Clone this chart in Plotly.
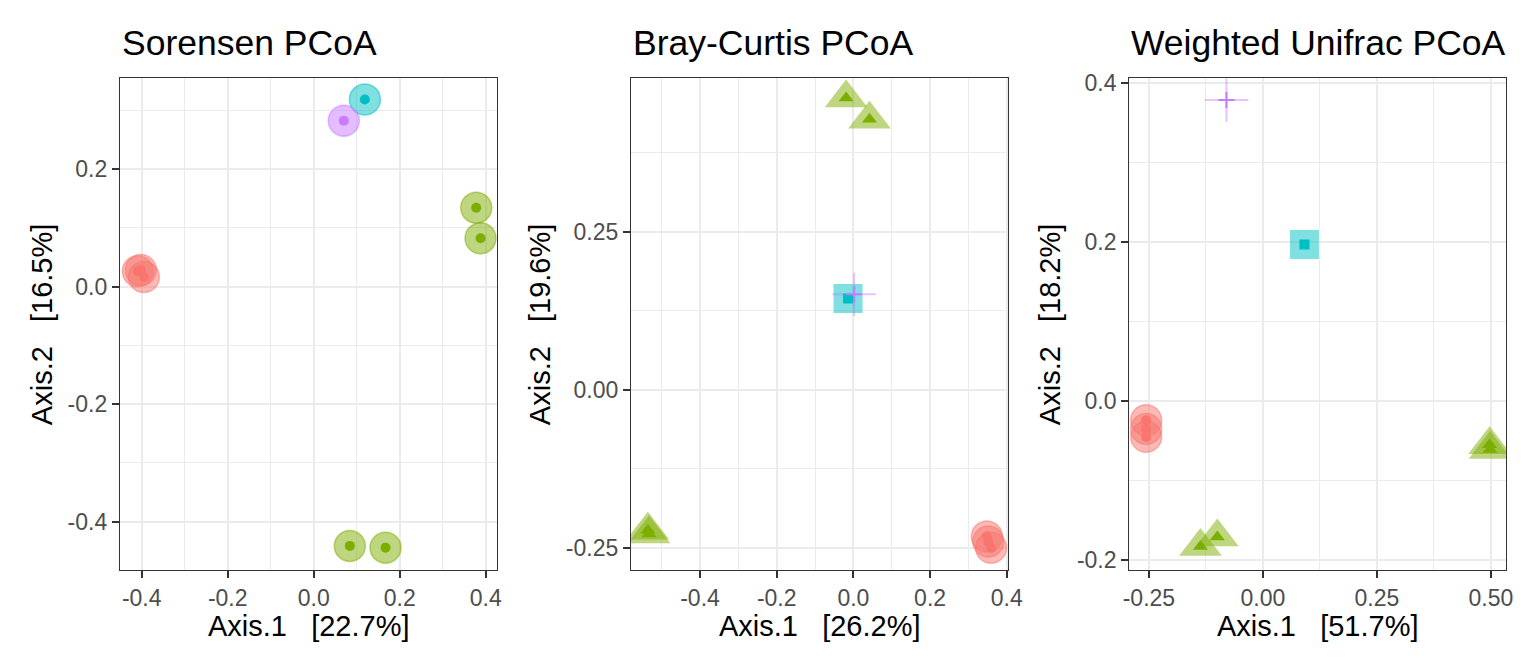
import plotly.graph_objects as go

# group order and colours (ggplot hue palette)
groups = ["A", "B", "C", "D"]
colors = {"A": (248, 118, 109), "B": (124, 174, 0), "C": (0, 191, 196), "D": (199, 124, 255)}
shapes_mixed = {"A": "circle", "B": "triangle-up", "C": "square", "D": "cross-thin"}

# Sorensen PCoA
sor_group = ["A", "A", "A", "B", "B", "B", "B", "C", "D"]
sor_x = [-0.409, -0.402, -0.395, 0.378, 0.388, 0.084, 0.167, 0.119, 0.070]
sor_y = [0.026, 0.028, 0.016, 0.134, 0.082, -0.441, -0.444, 0.318, 0.282]

# Bray-Curtis PCoA
bc_group = ["A", "A", "A", "B", "B", "B", "B", "C", "D"]
bc_x = [0.348, 0.352, 0.359, -0.019, 0.042, -0.536, -0.533, -0.014, 0.002]
bc_y = [-0.232, -0.240, -0.250, 0.4615, 0.428, -0.222, -0.228, 0.1445, 0.151]

# Weighted Unifrac PCoA
wu_group = ["A", "A", "A", "B", "B", "B", "B", "C", "D"]
wu_x = [-0.256, -0.256, -0.256, -0.137, -0.100, 0.497, 0.498, 0.091, -0.080]
wu_y = [-0.024, -0.035, -0.045, -0.183, -0.171, -0.055, -0.061, 0.197, 0.379]

titles = ["Sorensen PCoA", "Bray-Curtis PCoA", "Weighted Unifrac PCoA"]
x_titles = ["Axis.1   [22.7%]", "Axis.1   [26.2%]", "Axis.1   [51.7%]"]
y_titles = ["Axis.2   [16.5%]", "Axis.2   [19.6%]", "Axis.2   [18.2%]"]

x_ticks = [[-0.4, -0.2, 0.0, 0.2, 0.4], [-0.4, -0.2, 0.0, 0.2, 0.4], [-0.25, 0.0, 0.25, 0.5]]
x_ticktext = [["-0.4", "-0.2", "0.0", "0.2", "0.4"], ["-0.4", "-0.2", "0.0", "0.2", "0.4"],
              ["-0.25", "0.00", "0.25", "0.50"]]
x_minor = [[-0.5, -0.3, -0.1, 0.1, 0.3], [-0.5, -0.3, -0.1, 0.1, 0.3, 0.5], [-0.125, 0.125, 0.375]]
y_ticks = [[-0.4, -0.2, 0.0, 0.2], [-0.25, 0.0, 0.25], [-0.2, 0.0, 0.2, 0.4]]
y_ticktext = [["-0.4", "-0.2", "0.0", "0.2"], ["-0.25", "0.00", "0.25"], ["-0.2", "0.0", "0.2", "0.4"]]
y_minor = [[-0.3, -0.1, 0.1, 0.3], [-0.125, 0.125, 0.375], [-0.1, 0.1, 0.3]]

x_ranges = [[-0.4505, 0.427], [-0.58, 0.404], [-0.293, 0.533]]
y_ranges = [[-0.482, 0.354], [-0.285, 0.4927], [-0.2126, 0.4063]]

W, H = 1536, 672
OFF = 8  # page body margin shifts the figure by this much
panel_px = [(120, 497.3), (631, 1008.3), (1129.3, 1506)]
panel_top, panel_bottom = 78.3, 570
ytitle_px = [42, 540, 1050]


def rgba(c, a):
    return "rgba({},{},{},{})".format(c[0], c[1], c[2], a)


def px_x(v):
    return (v - OFF) / W


def px_y(v):
    return (H - (v - OFF)) / H


outer_size = {"circle": 31, "triangle-up": 37, "square": 29, "cross-thin": 31}
inner_size = {"circle": 10, "triangle-up": 13, "square": 10, "cross-thin": 11.5}

panels = [(sor_group, sor_x, sor_y, False), (bc_group, bc_x, bc_y, True), (wu_group, wu_x, wu_y, True)]

fig = go.Figure()
for i, (grp, xs, ys, mixed) in enumerate(panels):
    ax = "" if i == 0 else str(i + 1)
    for layer in ["outer", "inner"]:
        for g in groups:
            px = [x for x, gg in zip(xs, grp) if gg == g]
            py = [y for y, gg in zip(ys, grp) if gg == g]
            sym = shapes_mixed[g] if mixed else "circle"
            c = colors[g]
            if layer == "outer":
                if sym == "cross-thin":
                    marker = dict(symbol=sym, size=outer_size[sym], line=dict(color=rgba(c, 0.45), width=2))
                else:
                    marker = dict(symbol=sym, size=outer_size[sym], color=rgba(c, 0.5),
                                  line=dict(color=rgba(c, 0.5), width=1.5 if sym == "circle" else 0))
            else:
                if sym == "cross-thin":
                    marker = dict(symbol=sym, size=inner_size[sym], line=dict(color=rgba(c, 1), width=2))
                else:
                    marker = dict(symbol=sym, size=inner_size[sym], color=rgba(c, 1), line=dict(width=0))
            fig.add_trace(go.Scatter(x=px, y=py, mode="markers", marker=marker,
                                     xaxis="x" + ax, yaxis="y" + ax, showlegend=False, hoverinfo="skip"))

axis_common = dict(
    showline=True, mirror=True, linecolor="#333333", linewidth=1.3,
    ticks="outside", ticklen=7, tickwidth=1.6, tickcolor="#333333",
    showgrid=True, gridcolor="#EBEBEB", gridwidth=1.8, zeroline=False,
    tickfont=dict(family="Liberation Sans, Arial, sans-serif", size=23, color="#4D4D4D"),
    tickmode="array", automargin=False,
)

layout_axes = {}
for i in range(3):
    ax = "" if i == 0 else str(i + 1)
    left, right = panel_px[i]
    layout_axes["xaxis" + ax] = dict(
        axis_common, domain=[px_x(left), px_x(right)], anchor="y" + ax, range=x_ranges[i],
        tickvals=x_ticks[i], ticktext=x_ticktext[i],
        minor=dict(showgrid=True, gridcolor="#EBEBEB", gridwidth=0.9, tickvals=x_minor[i], ticks=""),
    )
    layout_axes["yaxis" + ax] = dict(
        axis_common, domain=[px_y(panel_bottom), px_y(panel_top)], anchor="x" + ax, range=y_ranges[i],
        tickvals=y_ticks[i], ticktext=y_ticktext[i],
        minor=dict(showgrid=True, gridcolor="#EBEBEB", gridwidth=0.9, tickvals=y_minor[i], ticks=""),
    )

annotations = []
font_family = "Liberation Sans, Arial, sans-serif"
for i in range(3):
    left, right = panel_px[i]
    annotations.append(dict(text=titles[i], xref="paper", yref="paper", x=px_x(left), y=px_y(43),
                            xanchor="left", yanchor="middle", showarrow=False,
                            font=dict(family=font_family, size=35.5, color="black")))
    annotations.append(dict(text=x_titles[i].replace(" ", "\u00a0"), xref="paper", yref="paper",
                            x=px_x((left + right) / 2), y=px_y(626),
                            xanchor="center", yanchor="middle", showarrow=False,
                            font=dict(family=font_family, size=29, color="black")))
    annotations.append(dict(text=y_titles[i].replace(" ", "\u00a0"), xref="paper", yref="paper",
                            x=px_x(ytitle_px[i]), y=px_y((panel_top + panel_bottom) / 2),
                            xanchor="center", yanchor="middle", textangle=-90, showarrow=False,
                            font=dict(family=font_family, size=29, color="black")))

fig.update_layout(
    width=W, height=H,
    margin=dict(l=0, r=0, t=0, b=0),
    paper_bgcolor="white", plot_bgcolor="white",
    annotations=annotations,
    **layout_axes,
)

fig.write_html("out.html")
